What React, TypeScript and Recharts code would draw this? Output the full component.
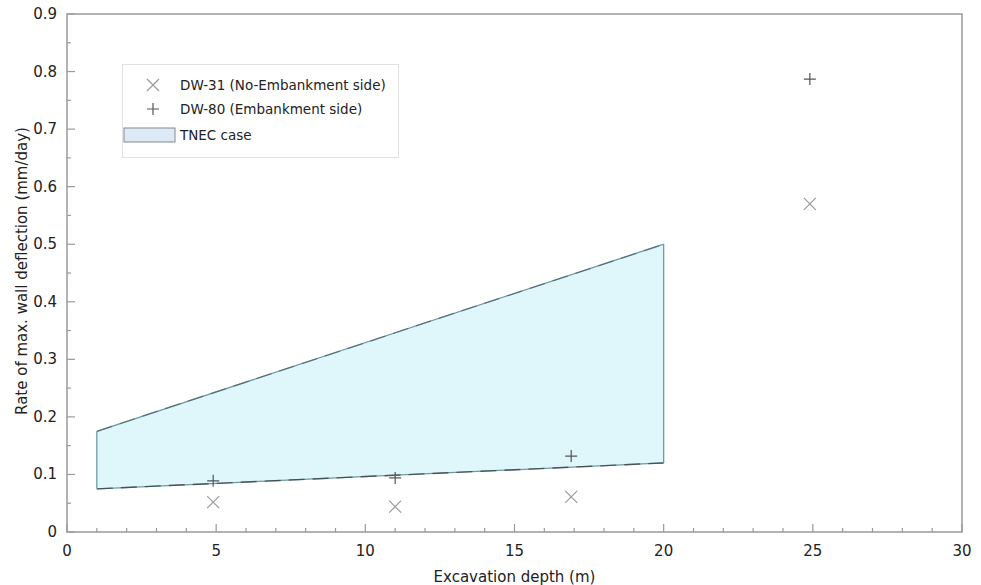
import React from "react";
import {
  ComposedChart,
  Area,
  Line,
  Scatter,
  XAxis,
  YAxis,
  ReferenceLine,
  ReferenceArea,
} from "recharts";

const DW31_DEPTH = [4.9, 11, 16.9, 24.9];
const DW31_RATE = [0.052, 0.044, 0.061, 0.57];
const DW80_DEPTH = [4.9, 11, 16.9, 24.9];
const DW80_RATE = [0.089, 0.094, 0.132, 0.787];

// TNEC envelope (trapezoid)
const TNEC_DEPTH = [1, 20];
const TNEC_LOWER = [0.075, 0.12];
const TNEC_UPPER = [0.175, 0.5];

const X_TICKS = Array.from({ length: 31 }, (_, i) => i);
const Y_TICKS = Array.from({ length: 19 }, (_, i) => i * 0.05);

const FONT = "'DejaVu Sans', Verdana, sans-serif";
const AXIS_COLOR = "#9a9a9a";

const tnecData = TNEC_DEPTH.map((x, i) => ({
  x,
  range: [TNEC_LOWER[i], TNEC_UPPER[i]],
  lower: TNEC_LOWER[i],
  upper: TNEC_UPPER[i],
}));
const dw31Data = DW31_DEPTH.map((x, i) => ({ x, y: DW31_RATE[i] }));
const dw80Data = DW80_DEPTH.map((x, i) => ({ x, y: DW80_RATE[i] }));

const Cross = (props: any) => {
  const { cx, cy } = props;
  const r = 6;
  return (
    <path
      d={`M${cx - r},${cy - r}L${cx + r},${cy + r}M${cx - r},${cy + r}L${cx + r},${cy - r}`}
      stroke="#9a9a9a"
      strokeWidth={1.2}
      fill="none"
    />
  );
};

const Plus = (props: any) => {
  const { cx, cy } = props;
  const r = 6;
  return (
    <path
      d={`M${cx - r},${cy}L${cx + r},${cy}M${cx},${cy - r}L${cx},${cy + r}`}
      stroke="#555"
      strokeWidth={1.2}
      fill="none"
    />
  );
};

const XTick = (props: any) => {
  const { x, y, payload } = props;
  const major = payload.value % 5 === 0;
  return (
    <g>
      <line x1={x} x2={x} y1={y} y2={y - (major ? 8 : 4)} stroke={AXIS_COLOR} strokeWidth={1.2} />
      {major && (
        <text x={x} y={y + 24} textAnchor="middle" fontSize={15} fontFamily={FONT} fill="#222">
          {payload.value}
        </text>
      )}
    </g>
  );
};

const YTick = (props: any) => {
  const { x, y, payload } = props;
  const v = payload.value;
  const major = Math.abs(v * 10 - Math.round(v * 10)) < 1e-6;
  const label = major ? (Math.round(v * 10) === 0 ? "0" : (Math.round(v * 10) / 10).toFixed(1)) : "";
  return (
    <g>
      <line x1={x} x2={x + (major ? 8 : 4)} y1={y} y2={y} stroke={AXIS_COLOR} strokeWidth={1.2} />
      {major && (
        <text x={x - 10} y={y + 5} textAnchor="end" fontSize={15} fontFamily={FONT} fill="#222">
          {label}
        </text>
      )}
    </g>
  );
};

const LegendBox = () => (
  <div
    style={{
      position: "absolute",
      left: 122,
      top: 64,
      width: 275,
      height: 92,
      background: "#fff",
      border: "1px solid #e2e2e2",
      fontFamily: FONT,
      fontSize: 13.5,
      color: "#222",
      lineHeight: "16px",
    }}
  >
    <svg width={60} height={92} style={{ position: "absolute", left: 0, top: 0 }}>
      <Cross cx={30} cy={20} />
      <Plus cx={30} cy={44} />
      <rect x={1} y={63} width={51} height={14} fill="#dce9f6" stroke="#888" strokeWidth={1} />
    </svg>
    <div style={{ position: "absolute", left: 57, top: 12 }}>DW-31 (No-Embankment side)</div>
    <div style={{ position: "absolute", left: 57, top: 36 }}>DW-80 (Embankment side)</div>
    <div style={{ position: "absolute", left: 57, top: 62 }}>TNEC case</div>
  </div>
);

export default function App() {
  return (
    <div style={{ position: "absolute", left: 0, top: 0, width: 981, height: 585, background: "#fff" }}>
      <ComposedChart
        width={981}
        height={585}
        data={tnecData}
        margin={{ top: 14, right: 19, left: 0, bottom: 0 }}
      >
        <XAxis
          type="number"
          dataKey="x"
          domain={[0, 30]}
          ticks={X_TICKS}
          interval={0}
          tick={<XTick />}
          tickSize={0}
          tickMargin={0}
          tickLine={false}
          axisLine={false}
          height={53}
          label={{
            value: "Excavation depth (m)",
            position: "insideBottom",
            offset: 3,
            fontSize: 15,
            fontFamily: FONT,
            fill: "#222",
          }}
        />
        <YAxis
          type="number"
          domain={[0, 0.9]}
          ticks={Y_TICKS}
          interval={0}
          tick={<YTick />}
          tickSize={0}
          tickMargin={0}
          tickLine={false}
          axisLine={false}
          width={67}
          label={{
            value: "Rate of max. wall deflection (mm/day)",
            angle: -90,
            position: "insideLeft",
            offset: 22,
            dy: -2,
            style: { textAnchor: "middle" },
            fontSize: 15,
            fontFamily: FONT,
            fill: "#222",
          }}
        />
        <ReferenceArea
          x1={0}
          x2={30}
          y1={0}
          y2={0.9}
          fill="none"
          stroke={AXIS_COLOR}
          strokeWidth={1.5}
        />
        <Area
          type="linear"
          dataKey="range"
          fill="#dff6fb"
          fillOpacity={1}
          stroke="#6d9aa4"
          strokeWidth={1.3}
          isAnimationActive={false}
          activeDot={false}
        />
        <Line
          type="linear"
          dataKey="upper"
          stroke="#3f4a4d"
          strokeOpacity={0.55}
          strokeDasharray="16 8"
          strokeWidth={1.3}
          dot={false}
          activeDot={false}
          isAnimationActive={false}
        />
        <Line
          type="linear"
          dataKey="lower"
          stroke="#333"
          strokeOpacity={0.7}
          strokeDasharray="16 8"
          strokeWidth={1.4}
          dot={false}
          activeDot={false}
          isAnimationActive={false}
        />
        <ReferenceLine
          segment={[
            { x: TNEC_DEPTH[0], y: TNEC_LOWER[0] },
            { x: TNEC_DEPTH[0], y: TNEC_UPPER[0] },
          ]}
          stroke="#6d9aa4"
          strokeWidth={1.3}
        />
        <ReferenceLine
          segment={[
            { x: TNEC_DEPTH[1], y: TNEC_LOWER[1] },
            { x: TNEC_DEPTH[1], y: TNEC_UPPER[1] },
          ]}
          stroke="#6d9aa4"
          strokeWidth={1.3}
        />
        <Scatter
          name="DW-31 (No-Embankment side)"
          data={dw31Data}
          dataKey="y"
          shape={<Cross />}
          isAnimationActive={false}
        />
        <Scatter
          name="DW-80 (Embankment side)"
          data={dw80Data}
          dataKey="y"
          shape={<Plus />}
          isAnimationActive={false}
        />
      </ComposedChart>
      <LegendBox />
    </div>
  );
}
